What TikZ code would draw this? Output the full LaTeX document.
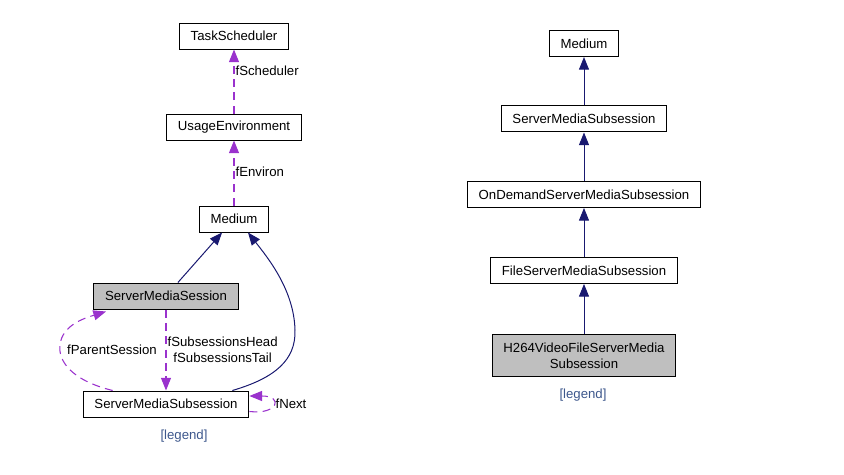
\documentclass[tikz,border=0pt]{standalone}
\usepackage{fontspec}
\setmainfont{Liberation Sans}
\usepackage{xcolor}
\usepackage{tikz}
\usetikzlibrary{shapes,arrows.meta}
\definecolor{edgepurple}{HTML}{9A32CD}
\definecolor{edgenavy}{HTML}{191970}
\definecolor{boxgray}{HTML}{BFBFBF}
\definecolor{legendblue}{HTML}{3D578C}
\tikzstyle{cls} = [rectangle, draw, line width=0.75pt, fill=white,
    inner xsep=8.5pt, inner ysep=2pt, minimum height=19.5pt]
\tikzstyle{clscur} = [cls, fill=boxgray]
\tikzstyle{usage} = [draw=edgepurple, line width=0.8pt, dash pattern=on 6pt off 4pt,
    -{Triangle[length=9.5pt,width=7.5pt]}]
\tikzstyle{inherit} = [draw=edgenavy, line width=0.75pt,
    -{Triangle[length=9.5pt,width=7.5pt]}]
\tikzstyle{lbl} = [inner sep=1pt]
\tikzstyle{legend} = [text=legendblue]

\begin{document}
\begin{tikzpicture}[x=0.75pt, y=-0.75pt, font=\fontsize{9.9pt}{12pt}\selectfont]
    \useasboundingbox (0,0) rectangle (844,475);
    % Place nodes

    \node [cls] (task_scheduler) at (234,36) {TaskScheduler};
    \node [cls, below of=task_scheduler, node distance=68.25pt] (usage_env) {UsageEnvironment};
    \node [cls, below of=usage_env, node distance=69pt] (medium_l) {Medium};
    \node [clscur] (media_session) at (166,296) {ServerMediaSession};
    \node [cls, below of=media_session, node distance=81pt] (subsession_l) {ServerMediaSubsession};
    \node [legend] (legend_l) at (184,436) {[legend]};

    \node [cls] (medium_r) at (584,43.5) {Medium};
    \node [cls, below of=medium_r, node distance=56.6pt] (subsession_r) {ServerMediaSubsession};
    \node [cls, below of=subsession_r, node distance=56.6pt] (ondemand) {OnDemandServerMediaSubsession};
    \node [cls, below of=ondemand, node distance=57pt] (file_sub) {FileServerMediaSubsession};
    \node [clscur, align=center, minimum height=32pt, below of=file_sub, node distance=63.75pt] (h264_sub) {H264VideoFileServerMedia\\Subsession};
    \node [legend] (legend_r) at (583,395) {[legend]};

    % Usage edges
    \path [usage] (usage_env) -- (task_scheduler);
    \path (usage_env) -- node [lbl, right, pos=0.66] {fScheduler} (task_scheduler);
    \path [usage] (medium_l) -- (usage_env);
    \path (medium_l) -- node [lbl, right, pos=0.52] {fEnviron} (usage_env);
    \path [usage] (media_session) -- (subsession_l);
    \path (media_session) -- node [lbl, right, align=center] {fSubsessionsHead\\fSubsessionsTail} (subsession_l);
    \path [usage] ([xshift=-40pt]subsession_l.north)
        .. controls (70,380) and (58,360) .. (60,345)
        .. controls (62,325) and (85,318) .. ([xshift=-45pt,yshift=-1.5pt]media_session.south);
    \node [lbl] (parent_lbl) at (112,350) {fParentSession};
    \path [usage] ([yshift=-5.6pt]subsession_l.east)
        .. controls (278,415) and (284,396) .. ([yshift=6pt]subsession_l.east);
    \node [lbl, anchor=west] (next_lbl) at (274,404) {fNext};

    % Inheritance edges
    \path [inherit] (media_session) -- (medium_l);
    \path [inherit] ([xshift=-12.75pt]subsession_l.north east)
        .. controls (275,378) and (296,360) .. (295,330)
        .. controls (294,290) and (268,258) .. ([xshift=10.5pt]medium_l.south);
    \path [inherit] (subsession_r) -- (medium_r);
    \path [inherit] (ondemand) -- (subsession_r);
    \path [inherit] (file_sub) -- (ondemand);
    \path [inherit] (h264_sub) -- (file_sub);
\end{tikzpicture}
\end{document}
